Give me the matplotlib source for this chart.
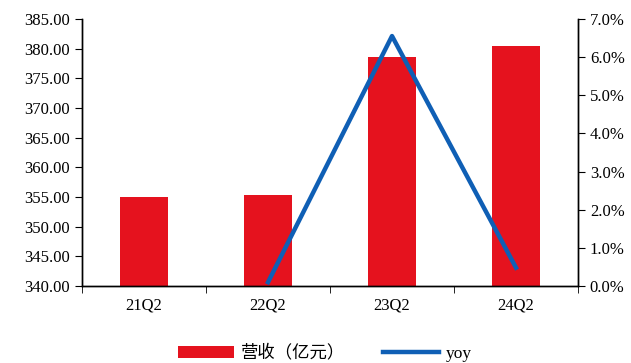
import matplotlib.pyplot as plt
from matplotlib.ticker import FuncFormatter, FixedLocator
import numpy as np

plt.rcParams['font.family'] = ['Liberation Serif', 'Noto Sans CJK SC']

quarters = ['21Q2', '22Q2', '23Q2', '24Q2']
revenue = [355.0, 355.4, 378.6, 380.4]
yoy_x = ['22Q2', '23Q2', '24Q2']
yoy = [0.1, 6.55, 0.48]

fig = plt.figure(figsize=(6.31, 3.63), dpi=100)
ax = fig.add_axes([0.13, 0.212, 0.786, 0.736])
x = np.arange(len(quarters))
bars = ax.bar(x, revenue, width=0.39, color='#E5121E', label='营收（亿元）', zorder=2)
ax.set_ylim(340, 385)
ax.set_yticks(np.arange(340, 386, 5))
ax.yaxis.set_major_formatter(FuncFormatter(lambda v, p: '%.2f' % v))
ax.set_xlim(-0.5, 3.5)
ax.set_xticks(x)
ax.set_xticklabels(quarters)
ax.xaxis.set_minor_locator(FixedLocator(np.arange(-0.5, 4, 1)))
ax.tick_params(axis='x', which='major', length=0, pad=8, labelsize=12)
ax.tick_params(axis='x', which='minor', length=5, direction='out')
ax.tick_params(axis='y', length=5, direction='out', labelsize=12)
ax.spines['top'].set_visible(False)

ax2 = ax.twinx()
xi = [quarters.index(q) for q in yoy_x]
ax2.plot(xi, yoy, color='#0F5FB5', linewidth=3.2, label='yoy', zorder=3)
ax2.set_ylim(0, 7)
ax2.set_yticks(np.arange(0, 7.1, 1))
ax2.yaxis.set_major_formatter(FuncFormatter(lambda v, p: '%.1f%%' % v))
ax2.tick_params(axis='y', length=5, direction='out', labelsize=12)
ax2.spines['top'].set_visible(False)
for a in (ax, ax2):
    for s in a.spines.values():
        s.set_linewidth(1.0)

h1, l1 = ax.get_legend_handles_labels()
h2, l2 = ax2.get_legend_handles_labels()
fig.legend(h1 + h2, l1 + l2, loc='center', bbox_to_anchor=(0.515, 0.027), ncol=2,
           frameon=False, fontsize=12.5, handlelength=3.2, handletextpad=0.4,
           columnspacing=2.2)

plt.savefig('out.png', dpi=100)
